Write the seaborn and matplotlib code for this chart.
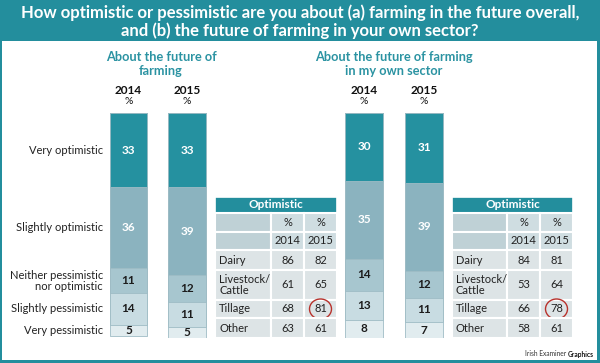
import numpy as np
import pandas as pd
import matplotlib
matplotlib.use("Agg")
import matplotlib.pyplot as plt
import matplotlib.transforms as mtransforms
from matplotlib.patches import Rectangle, Ellipse
import seaborn as sns

responses = ["Very optimistic", "Slightly optimistic",
             "Neither pessimistic\nnor optimistic", "Slightly pessimistic",
             "Very pessimistic"]
years = ["2014", "2015"]
overall_2014 = [33, 36, 11, 14, 5]
overall_2015 = [33, 39, 12, 11, 5]
sector_2014 = [30, 35, 14, 13, 8]
sector_2015 = [31, 39, 12, 11, 7]

sectors = ["Dairy", "Livestock/\nCattle", "Tillage", "Other"]
overall_opt_2014 = [86, 61, 68, 63]
overall_opt_2015 = [82, 65, 81, 61]
sector_opt_2014 = [84, 53, 66, 58]
sector_opt_2015 = [81, 64, 78, 61]
circled = "Tillage"

# --- styling ---
W, H = 600, 363
TEAL = "#238e9d"
SUB_TEAL = "#2b93a2"
shades = ["#2591a0", "#8bb3bf", "#a7c6cf", "#c8dce2", "#e1ecef"]
label_colors = ["white", "white", "#1c1c1c", "#1c1c1c", "#1c1c1c"]
row_h = [16, 19, 18, 20, 30, 18, 20]

sns.set_theme(style="white")
plt.rcParams["font.family"] = ["Lato", "DejaVu Sans"]

fig = plt.figure(figsize=(W / 100, H / 100), dpi=100)
fig.patch.set_facecolor(TEAL)


def px_axes(x0, y0, w, h):
    # axes placed by pixel box measured from the top-left corner
    return fig.add_axes([x0 / W, 1 - (y0 + h) / H, w / W, h / H])


# white panel under the title band
panel = px_axes(2, 41, 595, 319)
panel.set_facecolor("white")
panel.set_xticks([])
panel.set_yticks([])
for s in panel.spines.values():
    s.set_visible(False)

fig.text(0.5, 1 - 22 / H,
         "How optimistic or pessimistic are you about (a) farming in the future overall,\n"
         "and (b) the future of farming in your own sector?",
         ha="center", va="center", color="white", fontsize=12,
         fontweight="bold", linespacing=1.1)


def stacked_bars(ax, vals_2014, vals_2015, width, side_labels=False):
    df = pd.DataFrame({
        "response": responses * 2,
        "year": np.repeat(years, len(responses)),
        "pct": vals_2014 + vals_2015,
    })
    df["end"] = df.groupby("year")["pct"].cumsum()
    df["mid"] = df["end"] - df["pct"] / 2
    for i in reversed(range(len(responses))):
        sub = df[df.response == responses[i]]
        sns.barplot(data=sub, x="year", y="end", order=years, color=shades[i],
                    saturation=1, width=width, errorbar=None,
                    edgecolor="#9fbcc5", linewidth=0.6, ax=ax)
    for _, r in df.iterrows():
        i = responses.index(r.response)
        ax.text(years.index(r.year), r.mid, str(r.pct), ha="center", va="center",
                fontsize=8.5, fontweight="bold", color=label_colors[i])
    ax.set_xlim(-0.5, 1.5)
    ax.set_ylim(100, 0)
    ax.axis("off")

    top = mtransforms.blended_transform_factory(ax.transData, fig.transFigure)
    for j, y in enumerate(years):
        ax.text(j, 1 - 91 / H, y, transform=top, ha="center", va="center",
                fontsize=8.5, fontweight="bold", color="#111111")
        ax.text(j, 1 - 102 / H, "%", transform=top, ha="center", va="center",
                fontsize=7.5, color="#111111")

    if side_labels:
        left = mtransforms.blended_transform_factory(fig.transFigure, ax.transData)
        first = df[df.year == years[0]]
        for _, r in first.iterrows():
            ax.text(103 / W, r.mid, r.response, transform=left, ha="right",
                    va="center", fontsize=8, color="#222222",
                    multialignment="right", linespacing=1.0)


def draw_table(x0, y0, col_w, vals_a, vals_b):
    ax = px_axes(x0, y0, sum(col_w), sum(row_h))
    tw, th = sum(col_w), sum(row_h)
    ax.set_xlim(0, tw)
    ax.set_ylim(th, 0)
    ax.axis("off")
    xs = np.concatenate([[0], np.cumsum(col_w)])
    ys = np.concatenate([[0], np.cumsum(row_h)])

    ax.add_patch(Rectangle((0, 0), tw, row_h[0], fc=TEAL, ec="white", lw=1.2))
    ax.text(tw / 2, row_h[0] / 2, "Optimistic", ha="center", va="center",
            color="white", fontsize=8.5, fontweight="bold")

    rows = [["", "%", "%"], [""] + years]
    rows += [[s, str(a), str(b)] for s, a, b in zip(sectors, vals_a, vals_b)]
    for r, row in enumerate(rows, start=1):
        for c, txt in enumerate(row):
            if r <= 2:
                fc = "#bfd1d6" if c == 0 else "#cfdde1"
            else:
                fc = "#dde4e6"
            ax.add_patch(Rectangle((xs[c], ys[r]), col_w[c], row_h[r],
                                   fc=fc, ec="white", lw=1.5))
            cy = (ys[r] + ys[r + 1]) / 2
            if c == 0:
                ax.text(xs[c] + 4, cy, txt, ha="left", va="center",
                        fontsize=8, color="#222222", linespacing=1.05)
            else:
                ax.text((xs[c] + xs[c + 1]) / 2, cy, txt, ha="center",
                        va="center", fontsize=8, color="#222222")
        if row[0] == circled:
            cx = (xs[2] + xs[3]) / 2
            cy = (ys[r] + ys[r + 1]) / 2
            ax.add_patch(Ellipse((cx, cy), 22, 20, fill=False,
                                 ec="#b8322c", lw=1.0, clip_on=False))


# left group: farming overall
ax_l = px_axes(99.25, 113, 117, 225)
stacked_bars(ax_l, overall_2014, overall_2015, 0.64, side_labels=True)
fig.text(161 / W, 1 - 64 / H, "About the future of\nfarming", ha="center",
         va="center", color=SUB_TEAL, fontsize=9.2, fontweight="bold",
         linespacing=1.15)

# right group: own sector
ax_r = px_axes(334, 113, 120, 225)
stacked_bars(ax_r, sector_2014, sector_2015, 0.63)
fig.text(394 / W, 1 - 64 / H, "About the future of farming\nin my own sector",
         ha="center", va="center", color=SUB_TEAL, fontsize=9.2,
         fontweight="bold", linespacing=1.15)

draw_table(215, 197, [56, 33, 33], overall_opt_2014, overall_opt_2015)
draw_table(452, 197, [55, 33, 33], sector_opt_2014, sector_opt_2015)

fig.text(566 / W, 1 - 354 / H, "Irish Examiner", ha="right", va="center",
         fontsize=4.8, color="#333333")
fig.text(594 / W, 1 - 354 / H, "Graphics", ha="right", va="center",
         fontsize=4.8, fontweight="bold", color="#111111")

fig.savefig("out.png", dpi=100, facecolor=fig.get_facecolor())
